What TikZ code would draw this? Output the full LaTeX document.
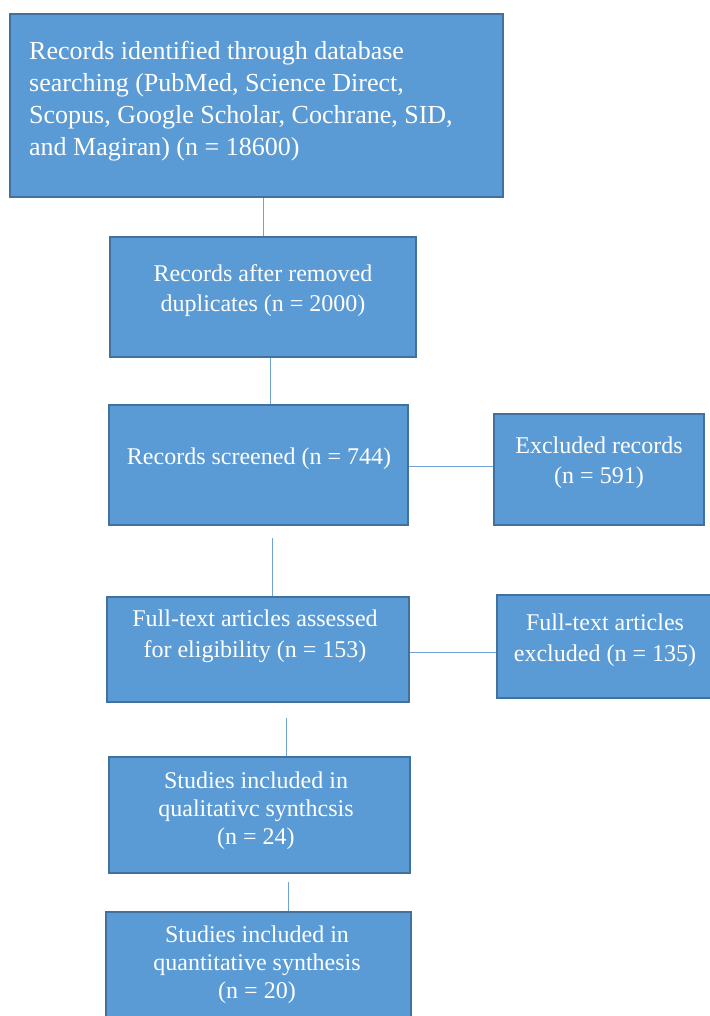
\documentclass[tikz,border=0pt]{standalone}
\usepackage{fontspec}
\setmainfont{Liberation Serif}
\definecolor{boxfill}{HTML}{5B9BD5}
\definecolor{boxedge}{HTML}{41719C}
\definecolor{linkc}{HTML}{6FA3D8}
\begin{document}
\begin{tikzpicture}[x=1pt,y=-1pt,
  box/.style={draw=boxedge,fill=boxfill,line width=1.5pt,inner sep=0pt,minimum width=#1},
  lbl/.style={text=white,inner sep=0pt,align=center},
  link/.style={draw=linkc,line width=1pt}]
\useasboundingbox[fill=white] (0,0) rectangle (709,1016);
% boxes
\node[box=493pt,minimum height=183pt] (b1) at (256.5,105.5) {};
\node[box=306pt,minimum height=120pt] (b2) at (263,297) {};
\node[box=299pt,minimum height=120pt] (b3) at (258.5,465) {};
\node[box=210pt,minimum height=111pt] (b4) at (599,469.5) {};
\node[box=302pt,minimum height=105pt] (b5) at (258,649.5) {};
\node[box=220pt,minimum height=103pt] (b6) at (607,646.5) {};
\node[box=301pt,minimum height=116pt] (b7) at (259.5,815) {};
\node[box=305pt,minimum height=120pt] (b8) at (258.5,972) {};
% labels
\node[lbl,align=left,anchor=west,font=\fontsize{26}{32}\selectfont] (t1) at (29,101)
  {Records identified through database\\searching (PubMed, Science Direct,\\Scopus, Google Scholar, Cochrane, SID,\\and Magiran) (n = 18600)};
\node[lbl,font=\fontsize{24}{30}\selectfont] (t2) at (263,291) {Records after removed\\duplicates (n = 2000)};
\node[lbl,font=\fontsize{24}{30}\selectfont] (t3) at (259,459) {Records screened (n = 744)};
\node[lbl,font=\fontsize{24}{30}\selectfont] (t4) at (599,463) {Excluded records\\(n = 591)};
\node[lbl,font=\fontsize{24}{31}\selectfont] (t5) at (255,636) {Full-text articles assessed\\for eligibility (n = 153)};
\node[lbl,font=\fontsize{24}{31}\selectfont] (t6) at (605,640) {Full-text articles\\excluded (n = 135)};
\node[lbl,font=\fontsize{24}{28}\selectfont] (t7) at (256,811) {Studies included in\\qualitativc synthcsis\\(n = 24)};
\node[lbl,font=\fontsize{24}{28}\selectfont] (t8) at (257,965) {Studies included in\\quantitative synthesis\\(n = 20)};
% connectors
\coordinate (c1) at (263,0);
\coordinate (c2) at (270,0);
\coordinate (c3a) at (272,538);
\coordinate (c4a) at (286,718);
\coordinate (c5a) at (288,882);
\coordinate (h1) at (0,466);
\coordinate (h2) at (0,652);
\draw[link] (b1.south -| c1) -- (b2.north -| c1);
\draw[link] (b2.south -| c2) -- (b3.north -| c2);
\draw[link] (c3a) -- (c3a |- b5.north);
\draw[link] (c4a) -- (c4a |- b7.north);
\draw[link] (c5a) -- (c5a |- b8.north);
\draw[link] (b3.east |- h1) -- (b4.west |- h1);
\draw[link] (b5.east |- h2) -- (b6.west |- h2);
\end{tikzpicture}
\end{document}
